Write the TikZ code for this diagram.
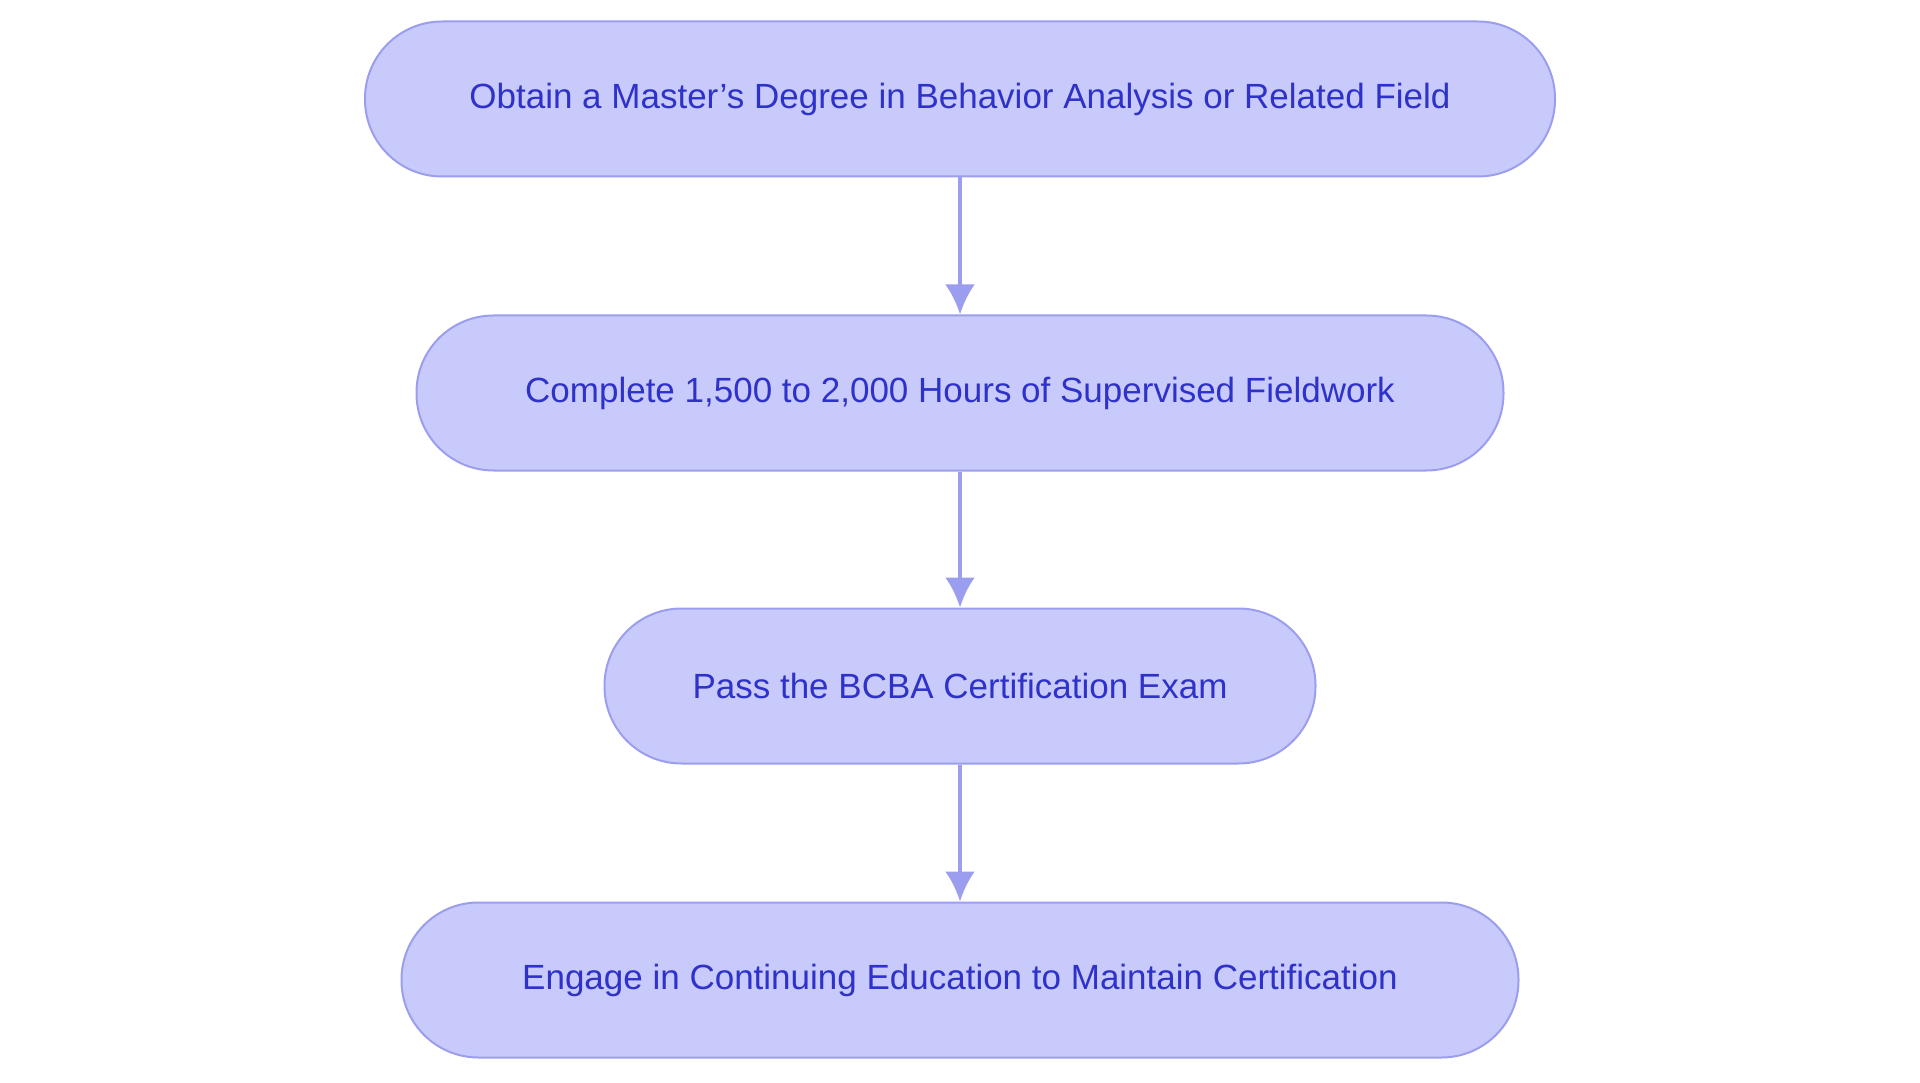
\documentclass[tikz,border=0pt]{standalone}
\usepackage{fontspec}
\setmainfont{Liberation Sans}
\usetikzlibrary{arrows.meta}
\definecolor{boxfill}{HTML}{C9CAFC}
\definecolor{boxline}{HTML}{9B9EEE}
\definecolor{boxtext}{HTML}{2E32C8}
\begin{document}
\begin{tikzpicture}[x=1pt,y=1pt,>=latex,
		stepbox/.style={draw=boxline,line width=2pt,fill=boxfill,rounded corners=77pt,
			minimum height=155pt,text=boxtext,font=\fontsize{35}{40}\selectfont},
		flow/.style={draw=boxline,line width=4pt,
			arrows={-Latex[length=30pt,width=30pt]}}]
		\useasboundingbox (0,0) rectangle (1920,-1083);
		
		\node[stepbox,minimum width=1190pt](degree)  at (960,-99) {Obtain a Master’s Degree in Behavior Analysis or Related Field};
		\node[stepbox,minimum width=1087pt](field) at (960,-393) {Complete 1,500 to 2,000 Hours of Supervised Fieldwork};
		\node[stepbox,minimum width=711pt](exam) at (960,-686) {Pass the BCBA Certification Exam};
		\node[stepbox,minimum width=1117pt](educ) at (960,-980) {Engage in Continuing Education to Maintain Certification};
		
		\draw[flow] (degree) -- (field);
		\draw[flow] (field) -- (exam);
		\draw[flow] (exam) -- (educ);
		\end{tikzpicture}
\end{document}
